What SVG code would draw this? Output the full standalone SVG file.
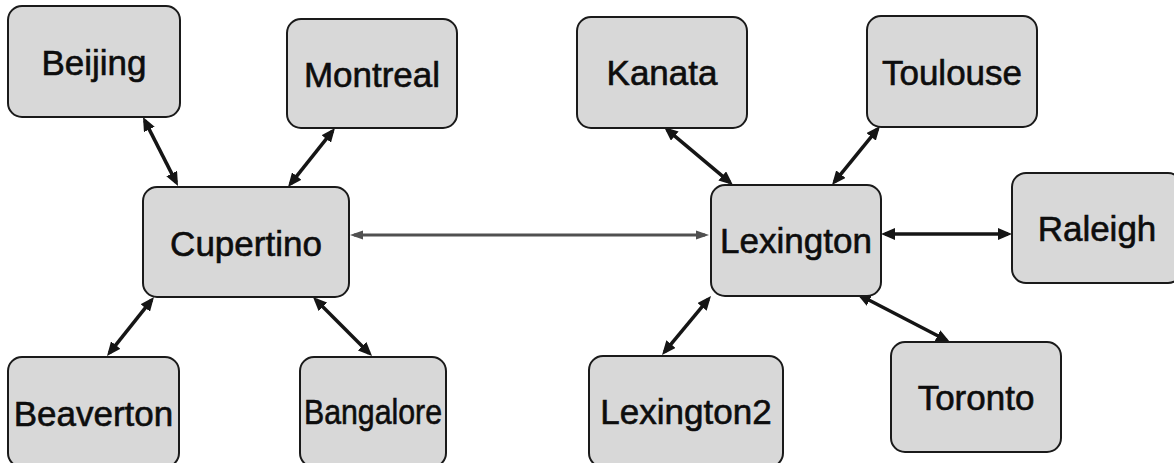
<svg xmlns="http://www.w3.org/2000/svg" width="1174" height="463" viewBox="0 0 1174 463">
  <style>
    .box { fill: #d8d8d8; stroke: #1a1a1a; stroke-width: 2; }
    .lbl { font-family: "Liberation Sans", Arial, sans-serif; font-size: 35px; fill: #0d0d0d; stroke: #0d0d0d; stroke-width: 0.6; text-anchor: middle; }
    .conn { stroke: #151515; stroke-width: 3.5; fill: none; marker-start: url(#ah); marker-end: url(#ah); }
    .conn.gray { stroke: #505050; stroke-width: 3; marker-start: url(#ahg); marker-end: url(#ahg); }
  </style>
  <defs>
    <marker id="ah" markerUnits="userSpaceOnUse" viewBox="0 0 14 12" markerWidth="14" markerHeight="12" refX="10" refY="6" orient="auto-start-reverse">
      <path d="M0,0 L14,6 L0,12 z" fill="#151515"/>
    </marker>
    <marker id="ahg" markerUnits="userSpaceOnUse" viewBox="0 0 13 11" markerWidth="13" markerHeight="11" refX="9" refY="5.5" orient="auto-start-reverse">
      <path d="M0,1 L13,5.5 L0,10 z" fill="#505050"/>
    </marker>
  </defs>

  <g id="connectors">
    <line class="conn" x1="144.8" y1="120.6" x2="176.2" y2="182.4"/>
    <line class="conn" x1="332.5" y1="131.1" x2="290.5" y2="183.9"/>
    <line class="conn" x1="151.5" y1="300.1" x2="109.5" y2="352.9"/>
    <line class="conn" x1="315.8" y1="299.8" x2="369.2" y2="353.2"/>
    <line class="conn gray" x1="354" y1="235" x2="705" y2="235"/>
    <line class="conn" x1="667.1" y1="129.6" x2="729.9" y2="182.4"/>
    <line class="conn" x1="877.5" y1="129.1" x2="834.5" y2="181.9"/>
    <line class="conn" x1="885" y1="234" x2="1008" y2="234"/>
    <line class="conn" x1="708.4" y1="299.1" x2="664.6" y2="351.9"/>
    <line class="conn" x1="860.6" y1="295.8" x2="946.4" y2="340.2"/>
  </g>

  <g id="beijing">
    <rect class="box" x="8" y="6" width="172" height="111" rx="14"/>
    <text class="lbl" x="94" y="75">Beijing</text>
  </g>
  <g id="montreal">
    <rect class="box" x="287" y="19" width="170" height="109" rx="14"/>
    <text class="lbl" x="372" y="87">Montreal</text>
  </g>
  <g id="cupertino">
    <rect class="box" x="143" y="187" width="206" height="110" rx="14"/>
    <text class="lbl" x="246" y="256">Cupertino</text>
  </g>
  <g id="beaverton">
    <rect class="box" x="8" y="357" width="171" height="110" rx="14"/>
    <text class="lbl" x="93.5" y="426">Beaverton</text>
  </g>
  <g id="bangalore">
    <rect class="box" x="300" y="357" width="146" height="110" rx="14"/>
    <text class="lbl" x="373" y="424" textLength="138" lengthAdjust="spacingAndGlyphs">Bangalore</text>
  </g>
  <g id="kanata">
    <rect class="box" x="577" y="17" width="170" height="111" rx="14"/>
    <text class="lbl" x="662" y="85">Kanata</text>
  </g>
  <g id="toulouse">
    <rect class="box" x="867" y="16" width="170" height="111" rx="14"/>
    <text class="lbl" x="952" y="85">Toulouse</text>
  </g>
  <g id="lexington">
    <rect class="box" x="711" y="185" width="170" height="111" rx="14"/>
    <text class="lbl" x="796" y="253">Lexington</text>
  </g>
  <g id="raleigh">
    <rect class="box" x="1012" y="173" width="170" height="110" rx="14"/>
    <text class="lbl" x="1097" y="241">Raleigh</text>
  </g>
  <g id="lexington2">
    <rect class="box" x="589" y="356" width="194" height="111" rx="14"/>
    <text class="lbl" x="686" y="424">Lexington2</text>
  </g>
  <g id="toronto">
    <rect class="box" x="891" y="342" width="170" height="110" rx="14"/>
    <text class="lbl" x="976" y="410">Toronto</text>
  </g>
</svg>
